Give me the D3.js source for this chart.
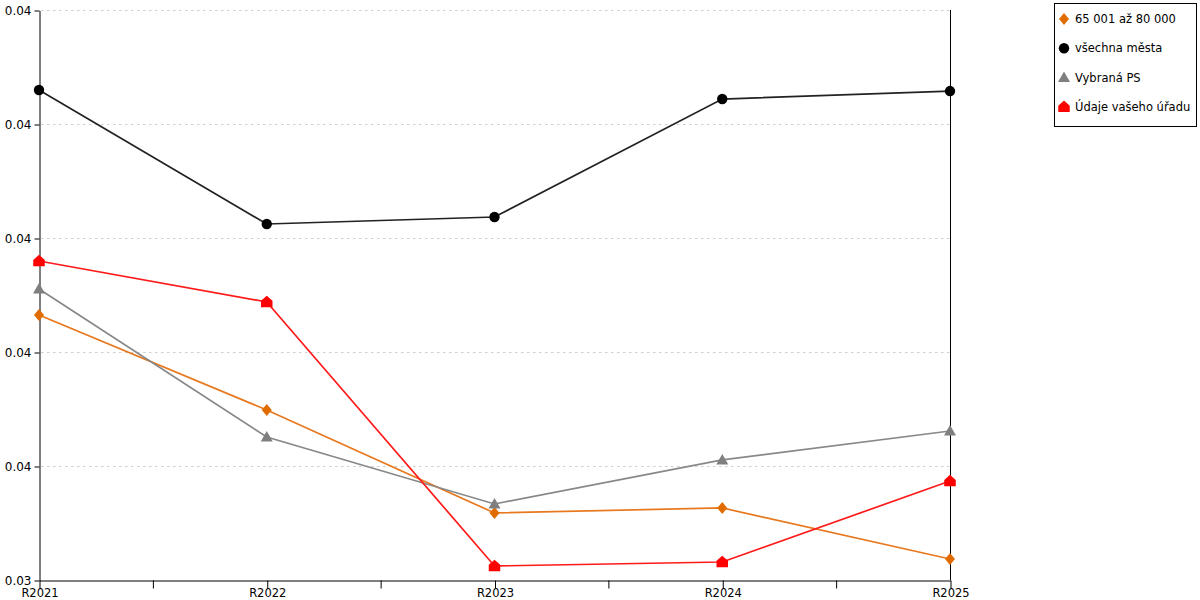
<!DOCTYPE html>
<html><head><meta charset="utf-8">
<script src="https://cdn.jsdelivr.net/npm/d3@7"></script>
<style>body{margin:0;background:#fff}svg{display:block;font-family:"DejaVu Sans",Verdana,sans-serif}</style>
</head><body><svg id="c" width="1200" height="600"></svg>
<script>
const categories = ["R2021","R2022","R2023","R2024","R2025"];
const seriesNames = ["65 001 až 80 000","všechna města","Vybraná PS","Údaje vašeho úřadu"];
const orangeVals = [0.036325,0.035491,0.034588,0.034632,0.034184];
const blackVals = [0.038298,0.037123,0.037184,0.038219,0.038289];
const grayVals = [0.036553,0.035254,0.034667,0.035053,0.035307];
const redVals = [0.036798,0.036439,0.034123,0.034158,0.034868];
const yTicks = [0.034,0.035,0.036,0.037,0.038,0.039];
const yTickLabels = ["0.03","0.04","0.04","0.04","0.04","0.04"];

const svg = d3.select("#c");
const L=39,R=950,T=10,B=580;
const x = d3.scalePoint().domain(categories).range([L,R]);
const y = d3.scaleLinear().domain([0.034,0.039]).range([B,T]);

// grid
svg.append("g").selectAll("line").data(yTicks.slice(1)).join("line")
 .attr("x1",L+2).attr("x2",R).attr("y1",d=>y(d)+0.5).attr("y2",d=>y(d)+0.5)
 .attr("stroke","#cfcfcf").attr("stroke-dasharray","2.5,3.5");

// y axis
const yAxis = d3.axisLeft(y).tickValues(yTicks).tickFormat((d,i)=>yTickLabels[i]).tickSize(5).tickSizeOuter(0).tickPadding(3);
const gy = svg.append("g").attr("transform",`translate(${L+0.5},0.5)`).call(yAxis);
gy.selectAll("text").attr("font-size",12).attr("fill","#000").style("font-family","DejaVu Sans, Verdana, sans-serif");
gy.select(".domain").attr("stroke","#000");
// right line
svg.append("line").attr("x1",R+0.5).attr("x2",R+0.5).attr("y1",T).attr("y2",B).attr("stroke","#000");

// x axis with minor ticks
const gx = svg.append("g").attr("transform",`translate(0.5,${B+0.5})`).call(d3.axisBottom(x).tickSize(8).tickSizeOuter(0).tickPadding(0));
gx.selectAll("text").attr("font-size",11.5).attr("fill","#000").style("font-family","DejaVu Sans, Verdana, sans-serif");
gx.select(".domain").attr("stroke","#000");
const mids = categories.slice(1).map((c,i)=>(x(categories[i])+x(c))/2);
gx.selectAll(".minor").data(mids).join("line").attr("class","minor")
 .attr("x1",d=>d).attr("x2",d=>d).attr("y1",0).attr("y2",8).attr("stroke","#000");

function houseShape(s){
  return `M0,${-s*0.55}L${s*0.5},${-s*0.1}L${s*0.5},${s*0.45}L${-s*0.5},${s*0.45}L${-s*0.5},${-s*0.1}Z`;
}
const series = [
 {name:seriesNames[0], vals:orangeVals, color:"#e8781e", mcolor:"#e06c00", sym:"diamond"},
 {name:seriesNames[1], vals:blackVals, color:"#222222", mcolor:"#000000", sym:"circle"},
 {name:seriesNames[2], vals:grayVals, color:"#888888", mcolor:"#7f7f7f", sym:"triangle"},
 {name:seriesNames[3], vals:redVals, color:"#ff1a1a", mcolor:"#ff0000", sym:"house"}
];
function symPath(sym){
  if(sym==="diamond") return "M0,-6L5,0L0,6L-5,0Z";
  if(sym==="circle") return d3.symbol(d3.symbolCircle,85)();
  if(sym==="triangle") return "M0,-6L6,4.5L-6,4.5Z";
  return houseShape(11.5);
}
const line = d3.line().x((d,i)=>x(categories[i])).y(d=>y(d));
[0,2,3,1].forEach(k=>{
  const s=series[k];
  svg.append("path").datum(s.vals).attr("d",line).attr("fill","none").attr("stroke",s.color).attr("stroke-width",1.7);
});
[0,2,3,1].forEach(k=>{
  const s=series[k];
  svg.append("g").selectAll("path").data(s.vals).join("path")
   .attr("transform",(d,i)=>`translate(${x(categories[i])},${y(d)})`)
   .attr("d",symPath(s.sym)).attr("fill",s.mcolor);
});

// legend
const lg = svg.append("g");
lg.append("rect").attr("x",1054.5).attr("y",3.5).attr("width",142).attr("height",123).attr("fill","#fff").attr("stroke","#000");
series.forEach((s,i)=>{
  const yy = 19 + i*29.3;
  lg.append("path").attr("transform",`translate(1064,${yy})`).attr("d",symPath(s.sym)).attr("fill",s.mcolor);
  lg.append("text").attr("x",1075).attr("y",yy+4).attr("font-size",11.5).text(s.name);
});
</script></body></html>
